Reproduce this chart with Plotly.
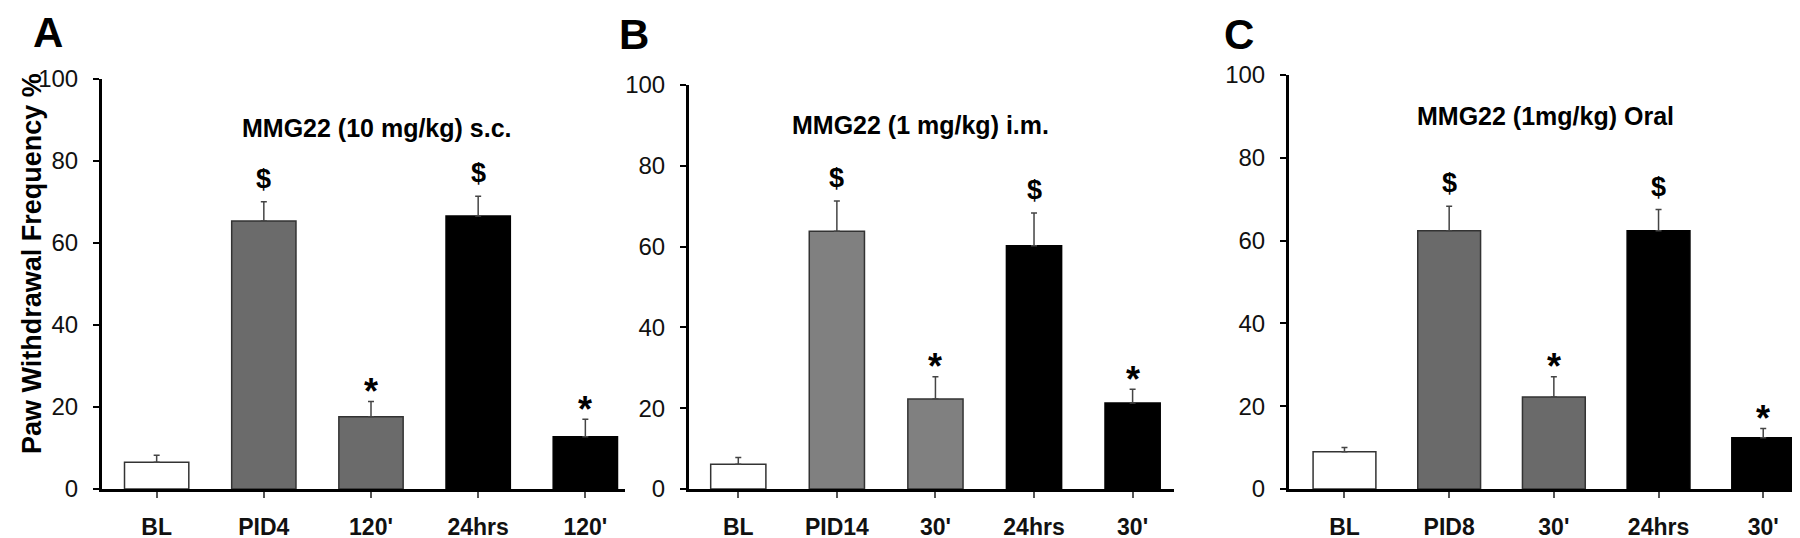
import plotly.graph_objects as go

# ---------------- data ----------------
cats_A = ["BL", "PID4", "120'", "24hrs", "120'"]
vals_A = [6.5, 65.3, 17.6, 66.5, 12.7]
err_A = [1.7, 4.7, 3.7, 4.8, 4.3]

cats_B = ["BL", "PID14", "30'", "24hrs", "30'"]
vals_B = [6.1, 63.8, 22.3, 60.2, 21.3]
err_B = [1.7, 7.5, 5.5, 8.1, 3.4]

cats_C = ["BL", "PID8", "30'", "24hrs", "30'"]
vals_C = [9.0, 62.4, 22.2, 62.4, 12.4]
err_C = [1.0, 5.9, 4.9, 5.1, 2.2]

sig_marks = ["", "$", "*", "$", "*"]

titles = ["MMG22 (10 mg/kg) s.c.", "MMG22 (1 mg/kg) i.m.", "MMG22 (1mg/kg) Oral"]
panel_letters = ["A", "B", "C"]
y_title = "Paw Withdrawal Frequency %"
y_ticks = [0, 20, 40, 60, 80, 100]

# ---------------- styling ----------------
W, H = 1800, 538
FONT = "Liberation Sans, Arial, Helvetica, sans-serif"

colors = {
    "A": ["#ffffff", "#6b6b6b", "#6b6b6b", "#000000", "#000000"],
    "B": ["#ffffff", "#808080", "#808080", "#000000", "#000000"],
    "C": ["#ffffff", "#6a6a6a", "#6a6a6a", "#000000", "#000000"],
}
line_colors = ["#333333", "#333333", "#333333", "#000000", "#000000"]

zero_px = 481
panels = [
    dict(key="A", cats=cats_A, vals=vals_A, err=err_A, xl=94, xr=617, ytop=70.5, r0=-0.51, r1=4.37, bw=0.6,
         title_xy=(369, 120), letter_xy=(40, 25)),
    dict(key="B", cats=cats_B, vals=vals_B, err=err_B, xl=681, xr=1166, ytop=77, r0=-0.50, r1=4.42, bw=0.56,
         title_xy=(912, 117), letter_xy=(626, 27)),
    dict(key="C", cats=cats_C, vals=vals_C, err=err_C, xl=1281, xr=1795, ytop=67, r0=-0.53, r1=4.38, bw=0.6,
         title_xy=(1537, 108), letter_xy=(1231, 26)),
]

fig = go.Figure()
annotations = []
layout_axes = {}

for i, p in enumerate(panels):
    n = "" if i == 0 else str(i + 1)
    xa, ya = "x" + n, "y" + n
    xs = list(range(len(p["cats"])))
    fig.add_trace(go.Bar(
        x=xs, y=p["vals"], xaxis=xa, yaxis=ya, width=p["bw"],
        marker=dict(color=colors[p["key"]], line=dict(color=line_colors, width=1.5)),
        error_y=dict(type="data", array=p["err"], arrayminus=[0] * len(xs), symmetric=False,
                     color="#444444", thickness=1.5, width=3),
        showlegend=False, hoverinfo="skip",
    ))
    layout_axes["xaxis" + n] = dict(
        domain=[p["xl"] / W, p["xr"] / W], anchor=ya, range=[p["r0"], p["r1"]],
        tickvals=xs, ticktext=["<b>" + c + "</b>" for c in p["cats"]],
        showline=True, linecolor="black", linewidth=3,
        ticks="outside", ticklen=6, tickwidth=1.5, tickcolor="#555555",
        tickfont=dict(family=FONT, size=23, color="#111111"),
        ticklabelstandoff=9, showgrid=False, zeroline=False, fixedrange=True, automargin=False,
    )
    layout_axes["yaxis" + n] = dict(
        domain=[1 - zero_px / H, 1 - p["ytop"] / H], anchor=xa, range=[0, 100],
        tickvals=y_ticks, showline=True, linecolor="black", linewidth=3,
        ticks="outside", ticklen=6, tickwidth=1.5, tickcolor="black",
        tickfont=dict(family=FONT, size=24, color="#111111"),
        ticklabelstandoff=10, showgrid=False, zeroline=False, fixedrange=True, automargin=False,
    )
    for j, m in enumerate(sig_marks):
        if not m:
            continue
        top = p["vals"][j] + p["err"][j]
        if m == "$":
            annotations.append(dict(x=j, y=top, xref=xa, yref=ya, text="<b>$</b>", showarrow=False,
                                    yanchor="middle", yshift=23,
                                    font=dict(family=FONT, size=27, color="black")))
        else:
            annotations.append(dict(x=j, y=top, xref=xa, yref=ya, text="<b>*</b>", showarrow=False,
                                    yanchor="middle", yshift=10,
                                    font=dict(family=FONT, size=36, color="black")))
    tx, ty = p["title_xy"]
    annotations.append(dict(x=tx / W, y=1 - ty / H, xref="paper", yref="paper", text="<b>" + titles[i] + "</b>",
                            showarrow=False, xanchor="center", yanchor="middle",
                            font=dict(family=FONT, size=25, color="black")))
    lx, ly = p["letter_xy"]
    annotations.append(dict(x=lx / W, y=1 - ly / H, xref="paper", yref="paper", text="<b>" + panel_letters[i] + "</b>",
                            showarrow=False, xanchor="center", yanchor="middle",
                            font=dict(family=FONT, size=42, color="black")))

annotations.append(dict(x=24 / W, y=1 - 256 / H, xref="paper", yref="paper", text="<b>" + y_title + "</b>",
                        textangle=-90, showarrow=False, xanchor="center", yanchor="middle",
                        font=dict(family=FONT, size=27, color="black")))

fig.update_layout(
    width=W, height=H, margin=dict(l=0, r=0, t=0, b=0, autoexpand=False),
    paper_bgcolor="white", plot_bgcolor="white",
    annotations=annotations, bargap=0.4,
    **layout_axes,
)

fig.write_html("out.html")
